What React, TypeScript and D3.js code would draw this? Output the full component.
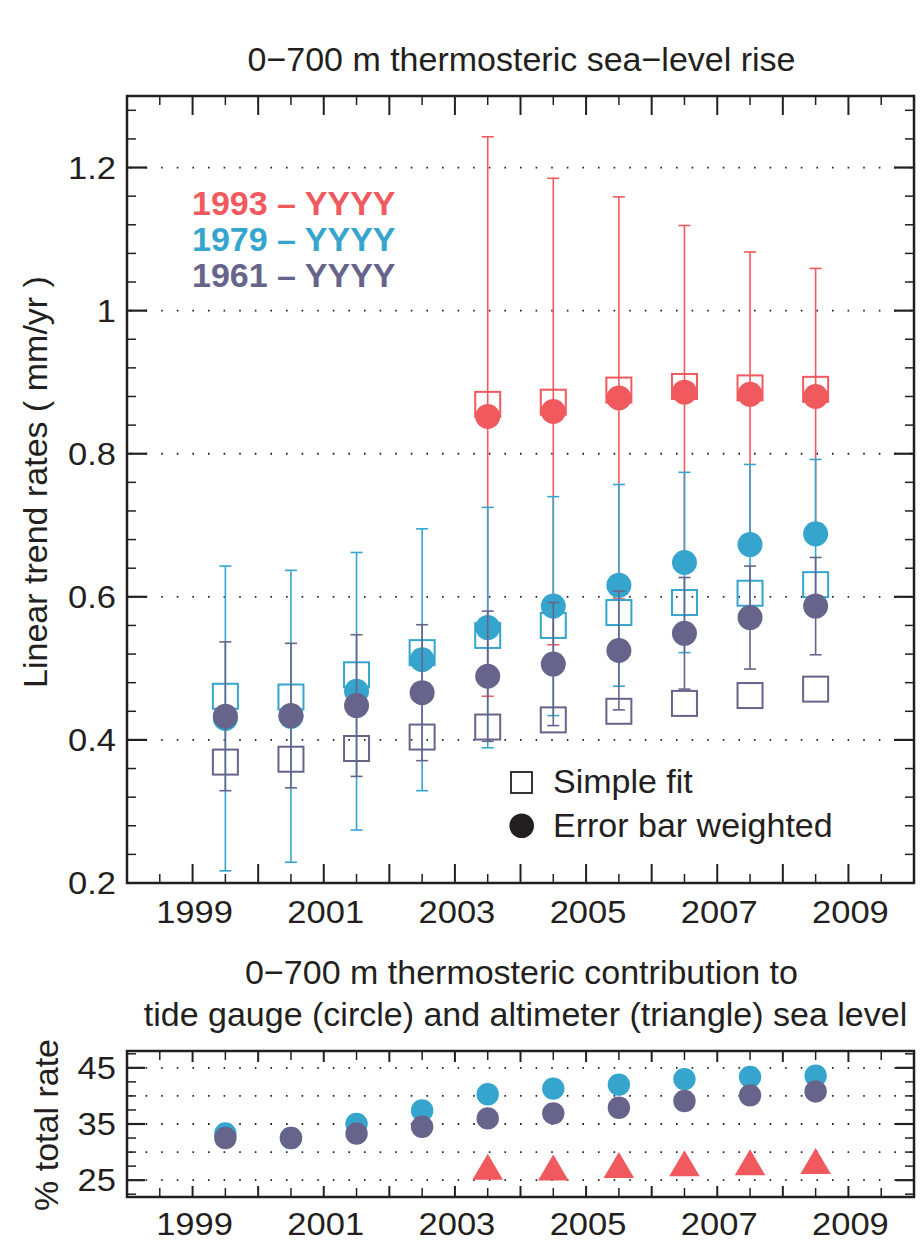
import React from 'react';
import * as d3 from 'd3';

// x positions of the yearly estimates (mid-year)
const years = [1999.5, 2000.5, 2001.5, 2002.5, 2003.5, 2004.5, 2005.5, 2006.5, 2007.5, 2008.5];
const redYears = [2003.5, 2004.5, 2005.5, 2006.5, 2007.5, 2008.5];

// top panel, mm/yr
const redFit = [0.869, 0.872, 0.889, 0.894, 0.892, 0.890];
const redWeighted = [0.852, 0.859, 0.878, 0.886, 0.883, 0.880];
const redErr = [0.391, 0.326, 0.281, 0.233, 0.199, 0.179];

const blueFit = [0.461, 0.460, 0.491, 0.522, 0.546, 0.560, 0.578, 0.592, 0.605, 0.617];
const blueWeighted = [0.430, 0.433, 0.468, 0.512, 0.557, 0.587, 0.616, 0.648, 0.673, 0.688];
const blueErr = [0.213, 0.204, 0.194, 0.183, 0.168, 0.153, 0.141, 0.126, 0.112, 0.104];

const purpleFit = [0.369, 0.373, 0.388, 0.404, 0.418, 0.428, 0.440, 0.451, 0.462, 0.471];
const purpleWeighted = [0.433, 0.434, 0.448, 0.466, 0.489, 0.506, 0.525, 0.549, 0.571, 0.587];
const purpleErr = [0.104, 0.101, 0.099, 0.095, 0.091, 0.086, 0.083, 0.078, 0.072, 0.068];

// bottom panel, % of total rate
const bottomBlue = [33.3, 32.5, 35.0, 37.4, 40.3, 41.3, 42.0, 43.0, 43.4, 43.6];
const bottomPurple = [32.5, 32.5, 33.3, 34.5, 36.0, 36.9, 37.9, 39.1, 40.1, 40.8];
const bottomRed = [27.4, 27.25, 27.7, 28.0, 28.2, 28.4];

const xLabels = [1999, 2001, 2003, 2005, 2007, 2009];
const yLabelsTop = [0.2, 0.4, 0.6, 0.8, 1.0, 1.2];
const yGridTop = [0.4, 0.6, 0.8, 1.0, 1.2];
const yLabelsBottom = [25, 35, 45];
const yGridBottom = [25, 30, 35, 40, 45];

const legendRows = [
  { label: '1993 – YYYY', color: '#f05a5e' },
  { label: '1979 – YYYY', color: '#36a5ce' },
  { label: '1961 – YYYY', color: '#67648b' },
];

const RED = '#f05a5e';
const BLUE = '#36a5ce';
const PURPLE = '#67648b';
const INK = '#231f20';
const FONT = '"Liberation Sans", Arial, Helvetica, sans-serif';

const L = 127, R = 914;
const x = d3.scaleLinear().domain([1998, 2010]).range([L, R]);
const yTop = d3.scaleLinear().domain([0.2, 1.3]).range([883, 96]);
const yBot = d3.scaleLinear().domain([22, 48]).range([1197, 1051]);

// tick labels in the original are a little wider than tall; stretch them to that width
const tickWidth = (s: string) => s.split('').reduce((w, c) => w + (c === '.' ? 9.6 : 19.2), 0);

function TickText({ x, y, anchor, children }) {
  const s = String(children);
  return (
    <text x={x} y={y} fontSize={30.5} textAnchor={anchor}
      textLength={tickWidth(s)} lengthAdjust="spacingAndGlyphs">{s}</text>
  );
}

function Series({ xs, fit, wt, err, color }) {
  const cap = 6;
  return (
    <g>
      {xs.map((yr, i) => {
        const cx = x(yr);
        const y1 = yTop(wt[i] - err[i]);
        const y2 = yTop(wt[i] + err[i]);
        return (
          <g key={'e' + i} stroke={color} strokeWidth={1.6}>
            <line x1={cx} x2={cx} y1={y1} y2={y2} />
            <line x1={cx - cap} x2={cx + cap} y1={y1} y2={y1} />
            <line x1={cx - cap} x2={cx + cap} y1={y2} y2={y2} />
          </g>
        );
      })}
      {xs.map((yr, i) => (
        <rect key={'s' + i} x={x(yr) - 12.5} y={yTop(fit[i]) - 12.5} width={25} height={25}
          fill="none" stroke={color} strokeWidth={2} />
      ))}
      {xs.map((yr, i) => (
        <circle key={'c' + i} cx={x(yr)} cy={yTop(wt[i])} r={12.5} fill={color} />
      ))}
    </g>
  );
}

function Frame({ y, top, bottom, yMinor, yMajor, xLong, xShort, yLong, yShort }) {
  const xt = d3.range(1998.5, 2010, 0.5);
  return (
    <g stroke={INK}>
      {xt.map((t, i) => {
        const len = i % 2 === 1 ? xLong : xShort;
        return (
          <g key={i} strokeWidth={i % 2 === 1 ? 2 : 1.5}>
            <line x1={x(t)} x2={x(t)} y1={top} y2={top + len} />
            <line x1={x(t)} x2={x(t)} y1={bottom} y2={bottom - len} />
          </g>
        );
      })}
      {yMinor.map((v, i) => {
        const major = yMajor.some(m => Math.abs(m - v) < 1e-6);
        const len = major ? yLong : yShort;
        return (
          <g key={'y' + i} strokeWidth={major ? 2.2 : 1.5}>
            <line x1={L} x2={L + len} y1={y(v)} y2={y(v)} />
            <line x1={R} x2={R - len} y1={y(v)} y2={y(v)} />
          </g>
        );
      })}
      <rect x={L} y={top} width={R - L} height={bottom - top} fill="none" strokeWidth={2.5} />
    </g>
  );
}

function Grid({ y, values }) {
  return (
    <g stroke={INK} strokeWidth={1.8} strokeDasharray="1.6 14" strokeDashoffset={-1}>
      {values.map(v => (
        <line key={v} x1={L + 2} x2={R} y1={y(v)} y2={y(v)} />
      ))}
    </g>
  );
}

export default function App() {
  const topMinor = d3.range(0, 28).map(i => +(0.2 + i * 0.04).toFixed(2)).filter(v => v > 0.2 && v < 1.3);
  const botMinor = d3.range(0, 11).map(i => 22.5 + i * 2.5);
  const tri = (cx, cy) => `M${cx},${cy - 13}L${cx + 15.3},${cy + 13}L${cx - 15.3},${cy + 13}Z`;

  return (
    <svg width={921} height={1242} style={{ position: 'absolute', left: 0, top: 0, background: '#fff' }}
      fontFamily={FONT} fill={INK}>
      <rect width={921} height={1242} fill="#fff" />

      {/* ---------- top panel ---------- */}
      <text x={521.5} y={71} fontSize={34} textAnchor="middle">0−700 m thermosteric sea−level rise</text>
      <text transform="translate(47,482) rotate(-90)" fontSize={34} textAnchor="middle">Linear trend rates ( mm/yr )</text>

      <Grid y={yTop} values={yGridTop} />
      <Frame y={yTop} top={96} bottom={883} yMinor={topMinor} yMajor={yLabelsTop}
        xLong={19} xShort={9} yLong={20} yShort={9} />

      {yLabelsTop.map(v => (
        <TickText key={v} x={116} y={yTop(v) + 11} anchor="end">{d3.format('~g')(v)}</TickText>
      ))}
      {xLabels.map(v => (
        <TickText key={v} x={x(v) + 2} y={923} anchor="middle">{v}</TickText>
      ))}

      <Series xs={redYears} fit={redFit} wt={redWeighted} err={redErr} color={RED} />
      <Series xs={years} fit={blueFit} wt={blueWeighted} err={blueErr} color={BLUE} />
      <Series xs={years} fit={purpleFit} wt={purpleWeighted} err={purpleErr} color={PURPLE} />

      {legendRows.map((r, i) => (
        <text key={r.label} x={192} y={215 + i * 36} fontSize={34} fontWeight="bold" fill={r.color}>{r.label}</text>
      ))}

      <rect x={511} y={772} width={21} height={21} fill="none" stroke={INK} strokeWidth={1.8} />
      <text x={553} y={793} fontSize={34}>Simple fit</text>
      <circle cx={521.7} cy={825.7} r={12.3} fill={INK} />
      <text x={553} y={837} fontSize={34}>Error bar weighted</text>

      {/* ---------- bottom panel ---------- */}
      <text x={521.5} y={984} fontSize={34} textAnchor="middle">0−700 m thermosteric contribution to</text>
      <text x={525.5} y={1026} fontSize={34} textAnchor="middle">tide gauge (circle) and altimeter (triangle) sea level</text>
      <text transform="translate(58,1125) rotate(-90)" fontSize={34} textAnchor="middle">% total rate</text>

      <Grid y={yBot} values={yGridBottom} />
      <Frame y={yBot} top={1051} bottom={1197} yMinor={botMinor} yMajor={yLabelsBottom}
        xLong={11} xShort={9} yLong={18} yShort={9} />

      {yLabelsBottom.map(v => (
        <TickText key={v} x={116} y={yBot(v) + 11} anchor="end">{v}</TickText>
      ))}
      {xLabels.map(v => (
        <TickText key={v} x={x(v) + 2} y={1235} anchor="middle">{v}</TickText>
      ))}

      {years.map((yr, i) => (
        <circle key={'bb' + i} cx={x(yr)} cy={yBot(bottomBlue[i])} r={11.2} fill={BLUE} />
      ))}
      {years.map((yr, i) => (
        <circle key={'bp' + i} cx={x(yr)} cy={yBot(bottomPurple[i])} r={11.2} fill={PURPLE} />
      ))}
      {redYears.map((yr, i) => (
        <path key={'br' + i} d={tri(x(yr), yBot(bottomRed[i]))} fill={RED} />
      ))}
    </svg>
  );
}
